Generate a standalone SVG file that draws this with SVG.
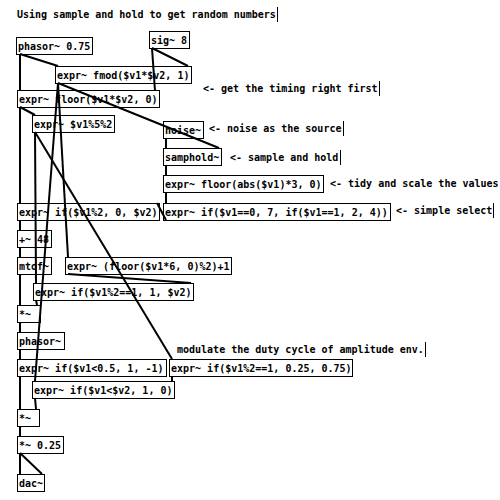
<svg xmlns="http://www.w3.org/2000/svg" width="500" height="500" viewBox="0 0 500 500">
<style>
text{font-family:"DejaVu Sans Mono","Liberation Mono",monospace;font-size:10px;font-weight:bold;fill:#000}
.box{fill:none;stroke:#000;stroke-width:1}
.c line{stroke:#000;stroke-width:2}
.cur{stroke:#000;stroke-width:1}
</style>
<rect width="500" height="500" fill="#fff"/>
<g id="comments">
<text x="17" y="18">Using sample and hold to get random numbers</text><line class="cur" x1="277.5" y1="7" x2="277.5" y2="22"/>
<text x="203" y="92">&lt;- get the timing right first</text><line class="cur" x1="379.5" y1="81" x2="379.5" y2="96"/>
<text x="209" y="132">&lt;- noise as the source</text><line class="cur" x1="343.5" y1="121" x2="343.5" y2="136"/>
<text x="230" y="161">&lt;- sample and hold</text><line class="cur" x1="340.5" y1="150" x2="340.5" y2="165"/>
<text x="330" y="187">&lt;- tidy and scale the values</text>
<text x="396" y="214">&lt;- simple select</text><line class="cur" x1="493.5" y1="203" x2="493.5" y2="218"/>
<text x="177" y="353">modulate the duty cycle of amplitude env.</text><line class="cur" x1="425.5" y1="342" x2="425.5" y2="357"/>
</g>
<g id="n1"><rect class="box" x="16.5" y="37.5" width="76" height="17"/><text x="18" y="50">phasor~ 0.75</text></g>
<g id="n2"><rect class="box" x="149.5" y="31.5" width="40" height="17"/><text x="151" y="44">sig~ 8</text></g>
<g id="n3"><rect class="box" x="55.5" y="66.5" width="136" height="17"/><text x="57" y="79">expr~ fmod($v1*$v2, 1)</text></g>
<g id="n4"><rect class="box" x="17.5" y="90.5" width="142" height="17"/><text x="19" y="103">expr~ floor($v1*$v2, 0)</text></g>
<g id="n5"><rect class="box" x="32.5" y="115.5" width="82" height="17"/><text x="34" y="128">expr~ $v1%5%2</text></g>
<g id="n6"><rect class="box" x="163.5" y="121.5" width="40" height="17"/><text x="165" y="134">noise~</text></g>
<g id="n7"><rect class="box" x="163.5" y="148.5" width="58" height="17"/><text x="165" y="161">samphold~</text></g>
<g id="n8"><rect class="box" x="163.5" y="175.5" width="160" height="17"/><text x="165" y="188">expr~ floor(abs($v1)*3, 0)</text></g>
<g id="n9"><rect class="box" x="17.5" y="203.5" width="142" height="17"/><text x="19" y="216">expr~ if($v1%2, 0, $v2)</text></g>
<g id="n10"><rect class="box" x="163.5" y="203.5" width="227" height="17"/><text x="165" y="216">expr~ if($v1==0, 7, if($v1==1, 2, 4))</text></g>
<g id="n11"><rect class="box" x="17.5" y="230.5" width="34" height="17"/><text x="19" y="243">+~ 48</text></g>
<g id="n12"><rect class="box" x="17.5" y="257.5" width="34" height="17"/><text x="19" y="270">mtof~</text></g>
<g id="n13"><rect class="box" x="65.5" y="257.5" width="166" height="17"/><text x="67" y="270">expr~ (floor($v1*6, 0)%2)+1</text></g>
<g id="n14"><rect class="box" x="33.5" y="283.5" width="160" height="17"/><text x="35" y="296">expr~ if($v1%2==1, 1, $v2)</text></g>
<g id="n15"><rect class="box" x="17.5" y="305.5" width="23" height="17"/><text x="19" y="318">*~</text></g>
<g id="n16"><rect class="box" x="17.5" y="332.5" width="47" height="17"/><text x="19" y="345">phasor~</text></g>
<g id="n17"><rect class="box" x="17.5" y="359.5" width="149" height="17"/><text x="19" y="372">expr~ if($v1&lt;0.5, 1, -1)</text></g>
<g id="n18"><rect class="box" x="169.5" y="359.5" width="183" height="17"/><text x="171" y="372">expr~ if($v1%2==1, 0.25, 0.75)</text></g>
<g id="n19"><rect class="box" x="32.5" y="381.5" width="142" height="17"/><text x="34" y="394">expr~ if($v1&lt;$v2, 1, 0)</text></g>
<g id="n20"><rect class="box" x="17.5" y="409.5" width="22" height="17"/><text x="19" y="422">*~</text></g>
<g id="n21"><rect class="box" x="17.5" y="436.5" width="46" height="17"/><text x="19" y="449">*~ 0.25</text></g>
<g id="n22"><rect class="box" x="17.5" y="474.5" width="27" height="17"/><text x="19" y="487">dac~</text></g>
<g class="c" id="connectors">
<line x1="20" y1="54" x2="20" y2="91"/>
<line x1="20" y1="54" x2="58" y2="66"/>
<line x1="152" y1="48" x2="188" y2="66"/>
<line x1="152" y1="48" x2="155" y2="91"/>
<line x1="58" y1="83" x2="219" y2="148"/>
<line x1="58" y1="83" x2="68" y2="257"/>
<line x1="58" y1="83" x2="35" y2="381"/>
<line x1="20" y1="107" x2="35" y2="115"/>
<line x1="20" y1="107" x2="20" y2="203"/>
<line x1="35" y1="132" x2="36" y2="283"/>
<line x1="35" y1="132" x2="172" y2="359"/>
<line x1="166" y1="138" x2="166" y2="148"/>
<line x1="166" y1="165" x2="166" y2="175"/>
<line x1="166" y1="192" x2="166" y2="203"/>
<line x1="166" y1="220" x2="157" y2="203"/>
<line x1="20" y1="220" x2="20" y2="230"/>
<line x1="20" y1="247" x2="20" y2="257"/>
<line x1="20" y1="274" x2="20" y2="305"/>
<line x1="68" y1="274" x2="191" y2="283"/>
<line x1="36" y1="300" x2="37" y2="305"/>
<line x1="20" y1="322" x2="20" y2="332"/>
<line x1="20" y1="349" x2="20" y2="359"/>
<line x1="20" y1="376" x2="20" y2="409"/>
<line x1="172" y1="376" x2="172" y2="381"/>
<line x1="35" y1="398" x2="36" y2="409"/>
<line x1="20" y1="426" x2="20" y2="436"/>
<line x1="20" y1="453" x2="20" y2="474"/>
<line x1="20" y1="453" x2="42" y2="474"/>
</g>
</svg>
